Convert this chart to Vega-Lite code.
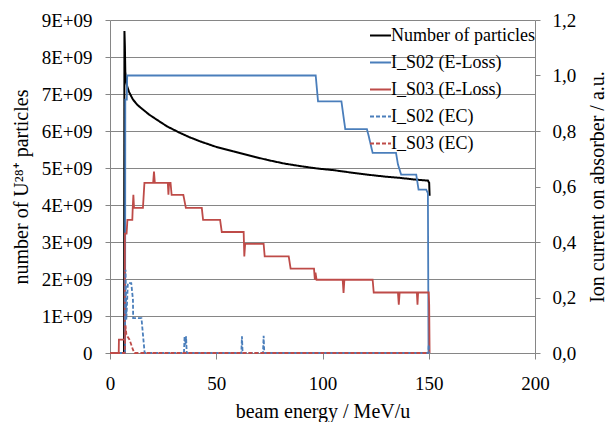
{
  "$schema": "https://vega.github.io/schema/vega-lite/v6.json",
  "width": 425,
  "height": 333,
  "autosize": "none",
  "padding": {"left": 110, "top": 20, "right": 72, "bottom": 69},
  "background": "white",
  "datasets": {
    "particles": [
      {"s": "Number of particles", "x": 0, "v": 0},
      {"s": "Number of particles", "x": 6.6, "v": 0},
      {"s": "Number of particles", "x": 6.8, "v": 8700000000},
      {"s": "Number of particles", "x": 7.0, "v": 8300000000},
      {"s": "Number of particles", "x": 7.2, "v": 7600000000},
      {"s": "Number of particles", "x": 7.6, "v": 7350000000},
      {"s": "Number of particles", "x": 8.1, "v": 7200000000},
      {"s": "Number of particles", "x": 9, "v": 7050000000},
      {"s": "Number of particles", "x": 10.8, "v": 6850000000},
      {"s": "Number of particles", "x": 13, "v": 6700000000},
      {"s": "Number of particles", "x": 15.5, "v": 6580000000},
      {"s": "Number of particles", "x": 18.5, "v": 6440000000},
      {"s": "Number of particles", "x": 21.9, "v": 6310000000},
      {"s": "Number of particles", "x": 27, "v": 6120000000},
      {"s": "Number of particles", "x": 32.9, "v": 5950000000},
      {"s": "Number of particles", "x": 37.5, "v": 5830000000},
      {"s": "Number of particles", "x": 42.4, "v": 5720000000},
      {"s": "Number of particles", "x": 50, "v": 5570000000},
      {"s": "Number of particles", "x": 58.1, "v": 5450000000},
      {"s": "Number of particles", "x": 66, "v": 5330000000},
      {"s": "Number of particles", "x": 73.9, "v": 5220000000},
      {"s": "Number of particles", "x": 82, "v": 5120000000},
      {"s": "Number of particles", "x": 89.7, "v": 5050000000},
      {"s": "Number of particles", "x": 97, "v": 4990000000},
      {"s": "Number of particles", "x": 105.4, "v": 4940000000},
      {"s": "Number of particles", "x": 113, "v": 4880000000},
      {"s": "Number of particles", "x": 121.2, "v": 4820000000},
      {"s": "Number of particles", "x": 129, "v": 4770000000},
      {"s": "Number of particles", "x": 137, "v": 4730000000},
      {"s": "Number of particles", "x": 143, "v": 4690000000},
      {"s": "Number of particles", "x": 149.6, "v": 4660000000},
      {"s": "Number of particles", "x": 150.2, "v": 4600000000},
      {"s": "Number of particles", "x": 150.4, "v": 4250000000}
    ],
    "current": [
      {"s": "I_S02 (E-Loss)", "x": 0, "v": 0},
      {"s": "I_S02 (E-Loss)", "x": 7.1, "v": 0},
      {"s": "I_S02 (E-Loss)", "x": 7.2, "v": 0.913},
      {"s": "I_S02 (E-Loss)", "x": 7.9, "v": 0.913},
      {"s": "I_S02 (E-Loss)", "x": 8.1, "v": 1.0},
      {"s": "I_S02 (E-Loss)", "x": 96.8, "v": 1.0},
      {"s": "I_S02 (E-Loss)", "x": 97.9, "v": 0.907},
      {"s": "I_S02 (E-Loss)", "x": 108.9, "v": 0.907},
      {"s": "I_S02 (E-Loss)", "x": 110.7, "v": 0.807},
      {"s": "I_S02 (E-Loss)", "x": 120.9, "v": 0.807},
      {"s": "I_S02 (E-Loss)", "x": 121.8, "v": 0.78},
      {"s": "I_S02 (E-Loss)", "x": 123.6, "v": 0.721},
      {"s": "I_S02 (E-Loss)", "x": 134.6, "v": 0.721},
      {"s": "I_S02 (E-Loss)", "x": 135.5, "v": 0.68},
      {"s": "I_S02 (E-Loss)", "x": 137, "v": 0.643},
      {"s": "I_S02 (E-Loss)", "x": 144.1, "v": 0.643},
      {"s": "I_S02 (E-Loss)", "x": 145.2, "v": 0.589},
      {"s": "I_S02 (E-Loss)", "x": 148.8, "v": 0.589},
      {"s": "I_S02 (E-Loss)", "x": 149.6, "v": 0.576},
      {"s": "I_S02 (E-Loss)", "x": 149.9, "v": 0},

      {"s": "I_S03 (E-Loss)", "x": 0, "v": 0},
      {"s": "I_S03 (E-Loss)", "x": 4.1, "v": 0},
      {"s": "I_S03 (E-Loss)", "x": 4.2, "v": 0.048},
      {"s": "I_S03 (E-Loss)", "x": 6.9, "v": 0.048},
      {"s": "I_S03 (E-Loss)", "x": 7.0, "v": 0.43},
      {"s": "I_S03 (E-Loss)", "x": 7.8, "v": 0.43},
      {"s": "I_S03 (E-Loss)", "x": 8.2, "v": 0.48},
      {"s": "I_S03 (E-Loss)", "x": 10.5, "v": 0.48},
      {"s": "I_S03 (E-Loss)", "x": 10.7, "v": 0.523},
      {"s": "I_S03 (E-Loss)", "x": 11.0, "v": 0.57},
      {"s": "I_S03 (E-Loss)", "x": 11.3, "v": 0.523},
      {"s": "I_S03 (E-Loss)", "x": 15.5, "v": 0.523},
      {"s": "I_S03 (E-Loss)", "x": 16.2, "v": 0.613},
      {"s": "I_S03 (E-Loss)", "x": 20.3, "v": 0.613},
      {"s": "I_S03 (E-Loss)", "x": 20.7, "v": 0.654},
      {"s": "I_S03 (E-Loss)", "x": 21.1, "v": 0.613},
      {"s": "I_S03 (E-Loss)", "x": 27.2, "v": 0.613},
      {"s": "I_S03 (E-Loss)", "x": 27.5, "v": 0.57},
      {"s": "I_S03 (E-Loss)", "x": 27.8, "v": 0.613},
      {"s": "I_S03 (E-Loss)", "x": 28.5, "v": 0.613},
      {"s": "I_S03 (E-Loss)", "x": 29.0, "v": 0.57},
      {"s": "I_S03 (E-Loss)", "x": 34.5, "v": 0.57},
      {"s": "I_S03 (E-Loss)", "x": 35.7, "v": 0.523},
      {"s": "I_S03 (E-Loss)", "x": 43.2, "v": 0.523},
      {"s": "I_S03 (E-Loss)", "x": 43.8, "v": 0.48},
      {"s": "I_S03 (E-Loss)", "x": 51.8, "v": 0.48},
      {"s": "I_S03 (E-Loss)", "x": 52.6, "v": 0.436},
      {"s": "I_S03 (E-Loss)", "x": 62.9, "v": 0.436},
      {"s": "I_S03 (E-Loss)", "x": 63.2, "v": 0.348},
      {"s": "I_S03 (E-Loss)", "x": 63.6, "v": 0.393},
      {"s": "I_S03 (E-Loss)", "x": 72.3, "v": 0.393},
      {"s": "I_S03 (E-Loss)", "x": 72.8, "v": 0.348},
      {"s": "I_S03 (E-Loss)", "x": 84.1, "v": 0.348},
      {"s": "I_S03 (E-Loss)", "x": 85, "v": 0.304},
      {"s": "I_S03 (E-Loss)", "x": 96, "v": 0.304},
      {"s": "I_S03 (E-Loss)", "x": 96.4, "v": 0.264},
      {"s": "I_S03 (E-Loss)", "x": 96.7, "v": 0.29},
      {"s": "I_S03 (E-Loss)", "x": 97.2, "v": 0.264},
      {"s": "I_S03 (E-Loss)", "x": 109.5, "v": 0.264},
      {"s": "I_S03 (E-Loss)", "x": 109.9, "v": 0.216},
      {"s": "I_S03 (E-Loss)", "x": 110.3, "v": 0.264},
      {"s": "I_S03 (E-Loss)", "x": 123.6, "v": 0.264},
      {"s": "I_S03 (E-Loss)", "x": 124.1, "v": 0.218},
      {"s": "I_S03 (E-Loss)", "x": 135.5, "v": 0.218},
      {"s": "I_S03 (E-Loss)", "x": 135.9, "v": 0.174},
      {"s": "I_S03 (E-Loss)", "x": 136.3, "v": 0.218},
      {"s": "I_S03 (E-Loss)", "x": 144.4, "v": 0.218},
      {"s": "I_S03 (E-Loss)", "x": 144.7, "v": 0.174},
      {"s": "I_S03 (E-Loss)", "x": 145, "v": 0.218},
      {"s": "I_S03 (E-Loss)", "x": 150, "v": 0.218},
      {"s": "I_S03 (E-Loss)", "x": 150.2, "v": 0.174},
      {"s": "I_S03 (E-Loss)", "x": 150.4, "v": 0},

      {"s": "I_S02 (EC)", "x": 0, "v": 0},
      {"s": "I_S02 (EC)", "x": 7.0, "v": 0},
      {"s": "I_S02 (EC)", "x": 7.3, "v": 0.3},
      {"s": "I_S02 (EC)", "x": 7.7, "v": 0.12},
      {"s": "I_S02 (EC)", "x": 8.4, "v": 0.252},
      {"s": "I_S02 (EC)", "x": 10, "v": 0.252},
      {"s": "I_S02 (EC)", "x": 10.8, "v": 0.192},
      {"s": "I_S02 (EC)", "x": 10.9, "v": 0.126},
      {"s": "I_S02 (EC)", "x": 14.8, "v": 0.126},
      {"s": "I_S02 (EC)", "x": 16.3, "v": 0},
      {"s": "I_S02 (EC)", "x": 34.8, "v": 0},
      {"s": "I_S02 (EC)", "x": 35.1, "v": 0.06},
      {"s": "I_S02 (EC)", "x": 35.5, "v": 0.03},
      {"s": "I_S02 (EC)", "x": 35.8, "v": 0.06},
      {"s": "I_S02 (EC)", "x": 36.1, "v": 0},
      {"s": "I_S02 (EC)", "x": 61.8, "v": 0},
      {"s": "I_S02 (EC)", "x": 62.1, "v": 0.06},
      {"s": "I_S02 (EC)", "x": 62.4, "v": 0},
      {"s": "I_S02 (EC)", "x": 72, "v": 0},
      {"s": "I_S02 (EC)", "x": 72.3, "v": 0.062},
      {"s": "I_S02 (EC)", "x": 72.6, "v": 0},
      {"s": "I_S02 (EC)", "x": 149.8, "v": 0},
      {"s": "I_S02 (EC)", "x": 150, "v": 0.03},
      {"s": "I_S02 (EC)", "x": 150.1, "v": 0},

      {"s": "I_S03 (EC)", "x": 0, "v": 0},
      {"s": "I_S03 (EC)", "x": 6.9, "v": 0},
      {"s": "I_S03 (EC)", "x": 7.3, "v": 0.1},
      {"s": "I_S03 (EC)", "x": 7.7, "v": 0.066},
      {"s": "I_S03 (EC)", "x": 9.2, "v": 0.048},
      {"s": "I_S03 (EC)", "x": 10.8, "v": 0.012},
      {"s": "I_S03 (EC)", "x": 11.5, "v": 0},
      {"s": "I_S03 (EC)", "x": 150, "v": 0}
    ]
  },
  "encoding": {
    "x": {
      "field": "x",
      "type": "quantitative",
      "title": "beam energy / MeV/u",
      "scale": {"domain": [0, 200], "nice": false},
      "axis": {"values": [0, 50, 100, 150, 200], "grid": false, "tickSize": 6, "labelPadding": 15, "titlePadding": 8}
    },
    "color": {
      "field": "s",
      "type": "nominal",
      "scale": {
        "domain": ["Number of particles", "I_S02 (E-Loss)", "I_S03 (E-Loss)", "I_S02 (EC)", "I_S03 (EC)"],
        "range": ["#000000", "#4a7ebb", "#be4b48", "#4a7ebb", "#be4b48"]
      },
      "legend": {"title": null}
    },
    "strokeDash": {
      "field": "s",
      "type": "nominal",
      "scale": {
        "domain": ["Number of particles", "I_S02 (E-Loss)", "I_S03 (E-Loss)", "I_S02 (EC)", "I_S03 (EC)"],
        "range": [[1, 0], [1, 0], [1, 0], [4, 2], [4, 2]]
      },
      "legend": {"title": null}
    }
  },
  "layer": [
    {
      "data": {"name": "particles"},
      "mark": {"type": "line", "strokeWidth": 2},
      "encoding": {
        "y": {
          "field": "v",
          "type": "quantitative",
          "title": "number of U²⁸⁺ particles",
          "scale": {"domain": [0, 9000000000], "nice": false},
          "axis": {
            "orient": "left",
            "values": [0, 1000000000, 2000000000, 3000000000, 4000000000, 5000000000, 6000000000, 7000000000, 8000000000, 9000000000],
            "labelExpr": "datum.value == 0 ? '0' : format(datum.value / 1e9, 'd') + 'E+09'",
            "grid": true,
            "tickSize": 5,
            "labelPadding": 13,
            "titlePadding": 10
          }
        }
      }
    },
    {
      "data": {"name": "current"},
      "mark": {"type": "line", "strokeWidth": 1.8},
      "encoding": {
        "y": {
          "field": "v",
          "type": "quantitative",
          "title": "Ion current on absorber / a.u.",
          "scale": {"domain": [0, 1.2], "nice": false},
          "axis": {
            "orient": "right",
            "values": [0, 0.2, 0.4, 0.6, 0.8, 1.0, 1.2],
            "labelExpr": "replace(format(datum.value, '.1f'), '.', ',')",
            "grid": false,
            "tickSize": 5,
            "labelPadding": 12,
            "titleAngle": 270,
            "titleBaseline": "top",
            "titlePadding": 12
          }
        }
      }
    }
  ],
  "resolve": {"scale": {"y": "independent"}},
  "config": {
    "view": {"stroke": null},
    "font": "'Liberation Serif', 'Times New Roman', serif",
    "axis": {
      "labelFont": "'Liberation Serif', 'Times New Roman', serif",
      "titleFont": "'Liberation Serif', 'Times New Roman', serif",
      "labelFontSize": 19,
      "titleFontSize": 20,
      "titleFontWeight": "normal",
      "labelColor": "#000000",
      "titleColor": "#000000",
      "domainColor": "#868686",
      "tickColor": "#868686",
      "gridColor": "#868686",
      "gridOpacity": 1,
      "labelFlush": false,
      "labelOverlap": false
    },
    "legend": {
      "orient": "none",
      "legendX": 259,
      "legendY": 4,
      "symbolType": "stroke",
      "symbolSize": 441,
      "symbolStrokeWidth": 2,
      "labelFont": "'Liberation Serif', 'Times New Roman', serif",
      "labelFontSize": 18,
      "labelColor": "#000000",
      "labelOffset": -1,
      "labelLimit": 300,
      "rowPadding": 6,
      "padding": 0
    }
  }
}
